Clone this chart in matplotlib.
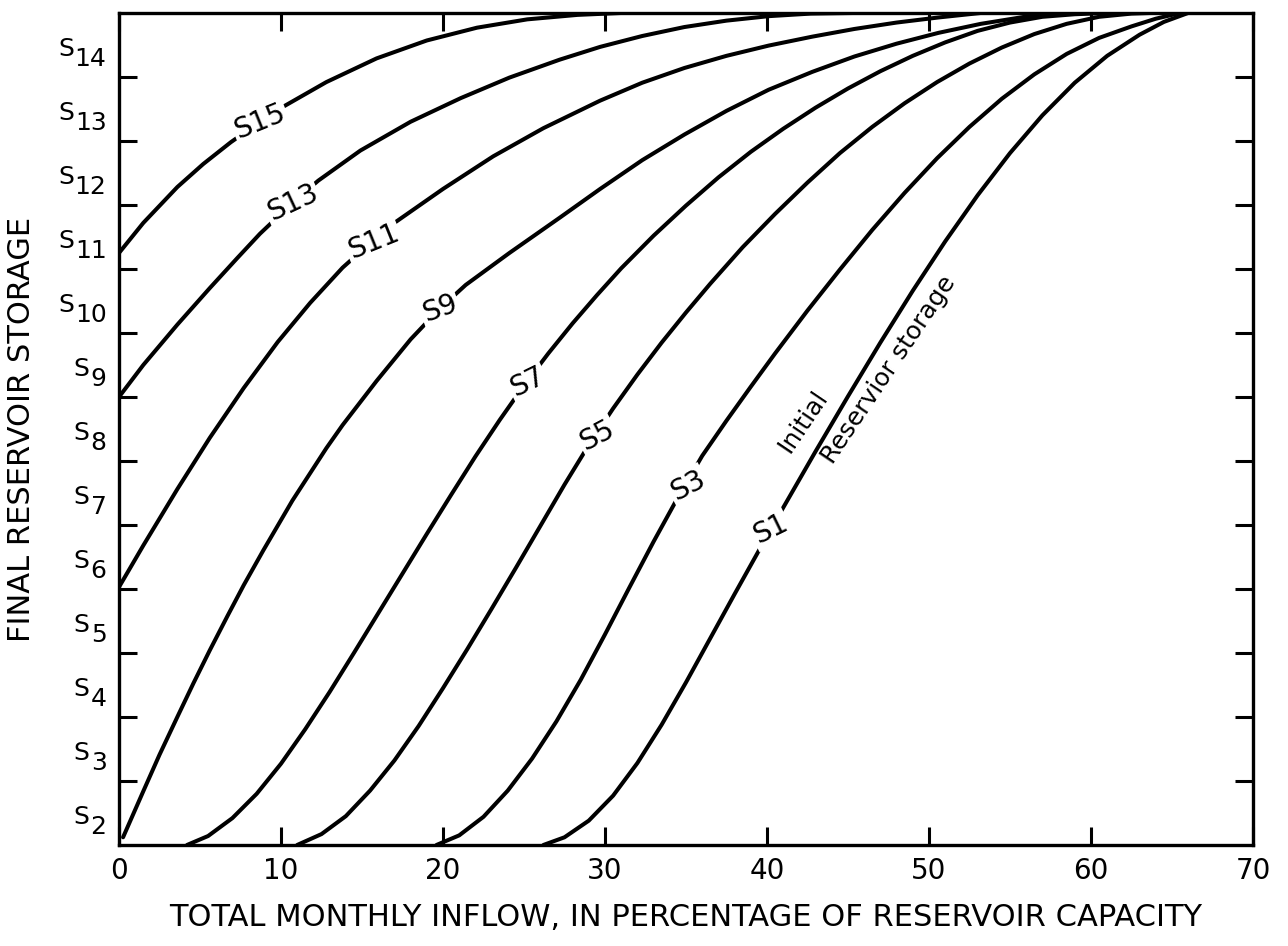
import matplotlib
matplotlib.use('Agg')
import matplotlib.pyplot as plt

plt.rcParams.update({
    'font.family': 'DejaVu Sans',
    'axes.linewidth': 2.4,
})

# final storage is in band units: 0 = bottom of the S2 band, 13 = full reservoir
S15_X = [0, 1.5, 3.6, 5.2, 6.9, 8.7, 10.1, 12.8, 15.9, 19.0, 22.1, 25.2, 28.3, 31.0]
S15_Y = [9.25, 9.72, 10.28, 10.64, 10.98, 11.30, 11.53, 11.92, 12.29, 12.57, 12.77, 12.90, 12.97, 13.0]

S13_X = [0, 1.5, 3.6, 5.6, 7.3, 8.7, 10.7, 12.3, 14.9, 18.0, 21.1, 24.1, 27.2, 29.7, 32.3,
         34.9, 37.5, 40.1, 42.7, 45.4]
S13_Y = [7.0, 7.5, 8.13, 8.70, 9.17, 9.55, 10.03, 10.38, 10.85, 11.30, 11.67, 11.99, 12.27, 12.47, 12.64,
         12.78, 12.88, 12.95, 12.99, 13.0]

S11_X = [0, 1.5, 3.6, 5.6, 7.7, 9.8, 11.8, 13.8, 15.7, 17.0, 20.0, 23.1, 26.2, 29.7, 32.3,
         34.9, 37.5, 40.1, 42.8, 45.4, 48.0, 50.6, 53.2]
S11_Y = [4.03, 4.68, 5.56, 6.36, 7.14, 7.86, 8.47, 9.02, 9.45, 9.72, 10.25, 10.76, 11.20, 11.63, 11.91,
         12.14, 12.33, 12.49, 12.63, 12.75, 12.85, 12.93, 13.0]

S9_X = [0.25, 1.5, 2.5, 3.6, 4.6, 5.6, 6.7, 7.7, 8.9, 10.7, 12.8, 13.8, 15.9, 18.0, 19.8, 21.4,
        24.1, 27.2, 29.7, 32.3, 34.9, 37.5, 40.1, 42.8, 45.4, 48.0, 50.6, 53.2, 55.9, 58.0]
S9_Y = [0.12, 0.84, 1.41, 2.0, 2.53, 3.04, 3.58, 4.06, 4.60, 5.38, 6.20, 6.56, 7.25, 7.90, 8.38, 8.75,
        9.25, 9.80, 10.25, 10.70, 11.10, 11.47, 11.80, 12.08, 12.32, 12.52, 12.69, 12.83, 12.94, 13.0]

S7_X = [4.2, 5.5, 7.0, 8.5, 10.0, 11.5, 13.0, 14.5, 16.0, 17.5, 19.0, 20.5, 22.0, 23.5, 25.0,
        26.5, 28.0, 29.5, 31.0, 33.0, 35.0, 37.0, 39.0, 41.0, 43.0, 45.0, 47.0, 49.0, 51.0,
        53.0, 55.0, 57.0, 59.0, 61.0]
S7_Y = [0, 0.14, 0.42, 0.80, 1.27, 1.81, 2.39, 3.00, 3.62, 4.24, 4.86, 5.47, 6.07, 6.64, 7.18,
        7.68, 8.15, 8.59, 9.01, 9.52, 9.99, 10.43, 10.83, 11.19, 11.52, 11.82, 12.09, 12.33, 12.54,
        12.72, 12.85, 12.94, 12.98, 13.0]

S5_X = [11.0, 12.5, 14.0, 15.5, 17.0, 18.5, 20.0, 21.5, 23.0, 24.5, 26.0, 27.5, 29.0, 30.5,
        32.0, 33.5, 35.0, 36.5, 38.5, 40.5, 42.5, 44.5, 46.5, 48.5, 50.5, 52.5, 54.5, 56.5,
        58.5, 60.5, 62.5, 63.7]
S5_Y = [0, 0.17, 0.45, 0.85, 1.32, 1.86, 2.45, 3.06, 3.69, 4.33, 4.98, 5.63, 6.25, 6.82,
        7.35, 7.85, 8.32, 8.77, 9.34, 9.86, 10.35, 10.81, 11.22, 11.59, 11.92, 12.21, 12.46, 12.67,
        12.83, 12.94, 12.99, 13.0]

S3_X = [19.6, 21.0, 22.5, 24.0, 25.5, 27.0, 28.5, 30.0, 31.5, 33.0, 34.5, 36.0, 37.5, 39.0,
        40.5, 42.5, 44.5, 46.5, 48.5, 50.5, 52.5, 54.5, 56.5, 58.5, 60.5, 62.5, 64.0, 65.5]
S3_Y = [0, 0.15, 0.44, 0.85, 1.35, 1.93, 2.58, 3.29, 4.02, 4.74, 5.43, 6.08, 6.63, 7.16,
        7.68, 8.35, 8.99, 9.61, 10.19, 10.73, 11.22, 11.66, 12.04, 12.36, 12.61, 12.79, 12.91, 13.0]

S1_X = [26.2, 27.5, 29.0, 30.5, 32.0, 33.5, 35.0, 36.5, 38.0, 39.5, 41.0, 43.0, 45.0, 47.0,
        49.0, 51.0, 53.0, 55.0, 57.0, 59.0, 61.0, 63.0, 64.5, 66.0]
S1_Y = [0, 0.12, 0.38, 0.77, 1.28, 1.88, 2.54, 3.23, 3.92, 4.60, 5.27, 6.15, 7.01, 7.85,
        8.66, 9.43, 10.15, 10.81, 11.40, 11.91, 12.33, 12.66, 12.86, 13.0]

CURVES = [
    ('S15', S15_X, S15_Y), ('S13', S13_X, S13_Y), ('S11', S11_X, S11_Y),
    ('S9', S9_X, S9_Y), ('S7', S7_X, S7_Y), ('S5', S5_X, S5_Y),
    ('S3', S3_X, S3_Y), ('S1', S1_X, S1_Y),
]

# where each curve name sits on its line (x, y, rotation)
LABEL_AT = {
    'S15': (8.7, 11.30, 22), 'S13': (10.7, 10.03, 25), 'S11': (15.7, 9.42, 22),
    'S9': (19.8, 8.38, 20), 'S7': (25.2, 7.24, 26), 'S5': (29.5, 6.40, 28),
    'S3': (35.1, 5.62, 28), 'S1': (40.2, 4.93, 26),
}

STORAGE_NUMS = ['2', '3', '4', '5', '6', '7', '8', '9', '10', '11', '12', '13', '14']
XTICKS = [0, 10, 20, 30, 40, 50, 60, 70]

fig = plt.figure(figsize=(12.88, 9.46), dpi=100)
ax = fig.add_axes([0.0924, 0.1068, 0.8804, 0.8795])
ax.set_xlim(0, 70)
ax.set_ylim(0, 13)

for name, xs, ys in CURVES:
    ax.plot(xs, ys, color='black', lw=2.9, solid_capstyle='round', solid_joinstyle='round', zorder=2)
    lx, ly, rot = LABEL_AT[name]
    ax.text(lx, ly, name, rotation=rot, ha='center', va='center', fontsize=20,
            rotation_mode='anchor', zorder=3,
            bbox=dict(facecolor='white', edgecolor='none', pad=1.5))

ax.text(42.2, 6.62, 'Initial', rotation=56, rotation_mode='anchor',
        ha='center', va='center', fontsize=18, zorder=3)
ax.text(47.5, 7.42, 'Reservior storage', rotation=56, rotation_mode='anchor',
        ha='center', va='center', fontsize=18, zorder=3)

ax.set_xticks(XTICKS)
ax.set_xticklabels([str(v) for v in XTICKS])
ax.set_yticks(range(1, 13))
ax.tick_params(axis='both', direction='in', length=13, width=2.2,
               top=True, right=True, labelsize=20, pad=9)
ax.tick_params(axis='y', labelleft=False)

# S-band labels on the left, S raised and the index lowered
for i, num in enumerate(STORAGE_NUMS):
    yc = i + 0.5
    ax.annotate(num, xy=(0, yc), xycoords=('axes fraction', 'data'),
                xytext=(-9, -10), textcoords='offset points',
                ha='right', va='center', fontsize=18)
    ax.annotate('S', xy=(0, yc), xycoords=('axes fraction', 'data'),
                xytext=(-9 - len(num) * 0.6 * 18 - 1.5, -3.0), textcoords='offset points',
                ha='right', va='center', fontsize=18)

ax.set_xlabel('TOTAL MONTHLY INFLOW, IN PERCENTAGE OF RESERVOIR CAPACITY', fontsize=22)
ax.xaxis.set_label_coords(0.5, -0.070)
ax.set_ylabel('FINAL RESERVOIR STORAGE', fontsize=22)
ax.yaxis.set_label_coords(-0.073, 0.5)

fig.savefig('out.png', dpi=100)
